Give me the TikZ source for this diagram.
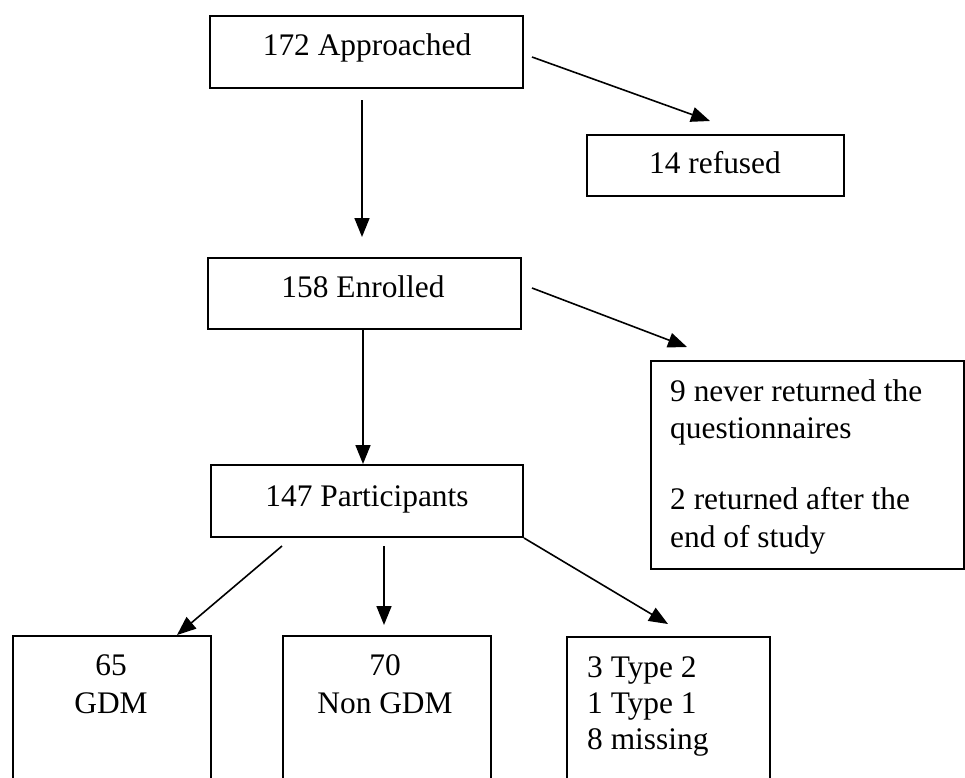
\documentclass[tikz,border=0pt]{standalone}
\usepackage{fontspec}
\setmainfont{Liberation Serif}
\usetikzlibrary{arrows.meta}
\begin{document}
\begin{tikzpicture}[x=1pt,y=-1pt,
  box/.style={draw, line width=2pt, inner sep=0pt, anchor=north west},
  txt/.style={inner sep=0pt, font=\fontsize{31.4}{37}\selectfont},
  arr/.style={line width=1.6pt, -{Triangle[length=19pt,width=15pt]}}]
\useasboundingbox (0,0) rectangle (965,777);
\clip (0,0) rectangle (965,777);
% boxes
\node[box, minimum width=313pt, minimum height=72pt] (app) at (209,15) {};
\node[box, minimum width=257pt, minimum height=61pt] (ref) at (586,134) {};
\node[box, minimum width=313pt, minimum height=71pt] (enr) at (207,257) {};
\node[box, minimum width=313pt, minimum height=208pt] (nev) at (650,360) {};
\node[box, minimum width=312pt, minimum height=72pt] (par) at (210,464) {};
\node[box, minimum width=198pt, minimum height=200pt] (gdm) at (12,635) {};
\node[box, minimum width=208pt, minimum height=200pt] (non) at (282,635) {};
\node[box, minimum width=203pt, minimum height=200pt] (oth) at (566,636) {};
% texts
\node[txt, anchor=base] (appt) at (367,55) {172 Approached};
\node[txt, anchor=base] (reft) at (715,173) {14 refused};
\node[txt, anchor=base] (enrt) at (363,297) {158 Enrolled};
\node[txt, anchor=base] (part) at (367,506) {147 Participants};
\node[txt, anchor=base west] (nev1) at (670,401) {9 never returned the};
\node[txt, anchor=base west] (nev2) at (670,438) {questionnaires};
\node[txt, anchor=base west] (nev3) at (670,509) {2 returned after the};
\node[txt, anchor=base west] (nev4) at (670,547) {end of study};
\node[txt, anchor=base] (gdm1) at (111,675) {65};
\node[txt, anchor=base] (gdm2) at (111,713) {GDM};
\node[txt, anchor=base] (non1) at (385,675) {70};
\node[txt, anchor=base] (non2) at (385,713) {Non GDM};
\node[txt, anchor=base west] (oth1) at (587,677) {3 Type 2};
\node[txt, anchor=base west] (oth2) at (587,713) {1 Type 1};
\node[txt, anchor=base west] (oth3) at (587,749) {8 missing};
% connector end points
\coordinate (c1s) at (532,57);  \coordinate (c1e) at (710,121);
\coordinate (c2s) at (362,100); \coordinate (c2e) at (362,237);
\coordinate (c3s) at (532,288); \coordinate (c3e) at (687,347);
\coordinate (c4s) at (363,328); \coordinate (c4e) at (363,464);
\coordinate (c5s) at (282,546); \coordinate (c5e) at (177,635);
\coordinate (c6s) at (384,546); \coordinate (c6e) at (384,625);
\coordinate (c7e) at (668,624);
% connectors
\draw[arr] (c1s) -- (c1e);
\draw[arr] (c2s) -- (c2e);
\draw[arr] (c3s) -- (c3e);
\draw[arr] (c4s) -- (c4e);
\draw[arr] (c5s) -- (c5e);
\draw[arr] (c6s) -- (c6e);
\draw[arr] (par.south east) -- (c7e);
\end{tikzpicture}
\end{document}
